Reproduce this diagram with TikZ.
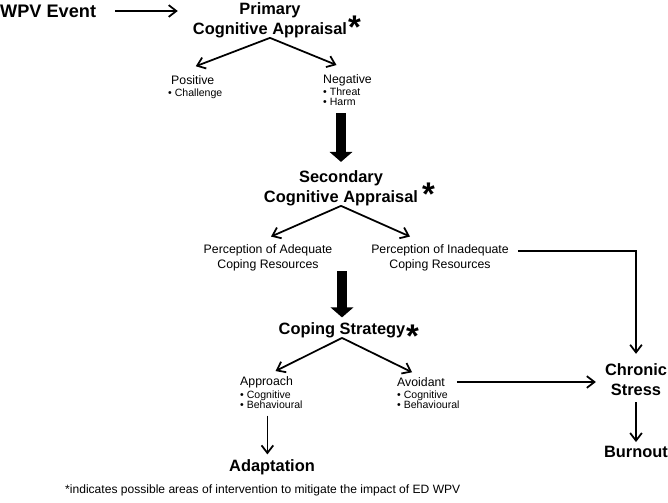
\documentclass[tikz,border=0pt]{standalone}
\usepackage{fontspec}
\setmainfont{Liberation Sans}
\usetikzlibrary{arrows.meta}

\begin{document}
\begin{tikzpicture}
        [x=0.03cm, y=-0.03cm,
        head/.style={font=\fontsize{14}{17}\selectfont\bfseries, align=center, inner sep=0pt},
        lab/.style={font=\fontsize{10.5}{12.75}\selectfont, align=center, inner sep=0pt},
        bul/.style={font=\fontsize{9}{8.5}\selectfont, align=left, inner sep=0pt, anchor=north west},
        ast/.style={font=\fontsize{28}{28}\selectfont\bfseries, inner sep=0pt, anchor=south west},
        arr/.style={-{Straight Barb[length=6.5pt,width=10pt]}, line width=1.5pt},
        fat/.style={line width=8.5pt, -{Triangle[length=8.5pt,width=19pt]}}]
        \useasboundingbox (0,0) rectangle (668,503);
        % stages
        \node (wpv) at (0,11) [head, anchor=west, font=\fontsize{15.5}{17}\selectfont\bfseries] {WPV Event};
        \node (pca) at (270,20) [head] {Primary\\Cognitive Appraisal};
        \node (ast1) at (348,39) [ast] {*};
        \node (pos) at (171,80) [lab, anchor=west] {Positive};
        \node (posl) at (168,89) [bul] {\textbullet\ Challenge};
        \node (neg) at (323,80) [lab, anchor=west] {Negative};
        \node (negl) at (323,88) [bul] {\textbullet\ Threat\\\textbullet\ Harm};
        \node (sca) at (341,188) [head] {Secondary\\Cognitive Appraisal};
        \node (ast2) at (422,206) [ast] {*};
        \node (ade) at (268,258) [lab] {Perception of Adequate\\Coping Resources};
        \node (inade) at (440,258) [lab] {Perception of Inadequate\\Coping Resources};
        \node (cs) at (342,330) [head] {Coping Strategy};
        \node (ast3) at (406,348) [ast] {*};
        \node (app) at (240,382) [lab, anchor=west] {Approach};
        \node (appl) at (240,391) [bul] {\textbullet\ Cognitive\\\textbullet\ Behavioural};
        \node (avo) at (397,382) [lab, anchor=west] {Avoidant};
        \node (avol) at (397,391) [bul] {\textbullet\ Cognitive\\\textbullet\ Behavioural};
        \node (adap) at (272,467) [head] {Adaptation};
        \node (chr) at (636,380) [head] {Chronic\\Stress};
        \node (bur) at (636,452) [head] {Burnout};
        \node (foot) at (65,490) [lab, anchor=west, font=\fontsize{10.3}{12}\selectfont] {*indicates possible areas of intervention to mitigate the impact of ED WPV};
        % connectors
        \draw[arr, shorten <=16pt, shorten >=12.8pt] (wpv.east) -- (wpv.east -| pca.west);
        \draw[arr] (pca.south) -- ([shift={(3,-9)}]pos.north);
        \draw[arr] (pca.south) -- ([shift={(-11,-9)}]neg.north);
        \draw[fat, shorten <=6pt, shorten >=7pt] (sca.north |- negl.south) -- (sca.north);
        \draw[arr] (sca.south) -- ([shift={(3,-8)}]ade.north);
        \draw[arr] (sca.south) -- ([shift={(-30,-8)}]inade.north);
        \draw[arr, shorten <=7.6pt, shorten >=8.5pt] ([shift={(0,-7)}]inade.east) -| (chr.north);
        \draw[fat, shorten >=4pt] (cs.north |- ade.south) -- (cs.north);
        \draw[arr] (cs.south) -- ([shift={(9,-5)}]app.north);
        \draw[arr] (cs.south) -- ([shift={(-9,-5)}]avo.north);
        \draw[arr, shorten <=10pt, shorten >=7.6pt] (avo.east) -- (avo.east -| chr.west);
        \draw[arr, shorten <=5pt, shorten >=3.4pt] (chr.south) -- (bur.north);
        \draw[arr, shorten <=5.5pt, shorten >=4pt] ([xshift=-3.4pt]appl.south) -- ([xshift=-3.4pt]appl.south |- adap.north);
      \end{tikzpicture}
\end{document}
